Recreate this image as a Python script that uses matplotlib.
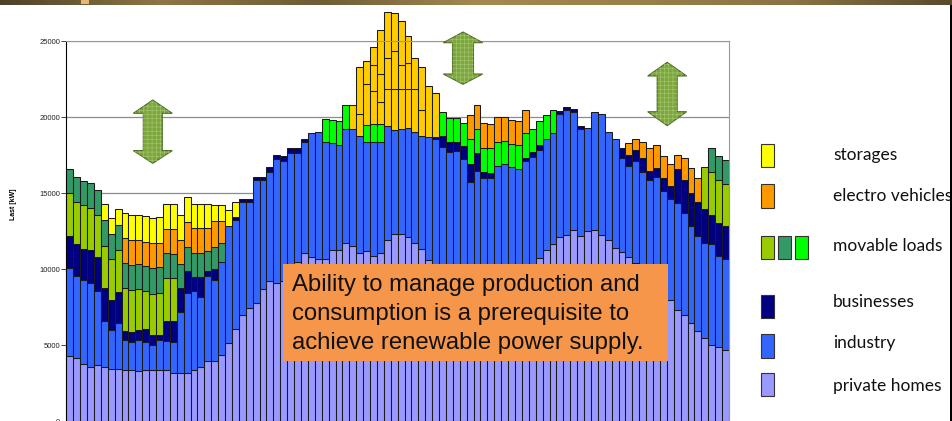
import numpy as np
import matplotlib.pyplot as plt
from matplotlib.patches import Rectangle, Polygon
from matplotlib.colors import LinearSegmentedColormap

# load profile, 96 quarter hours, values in kW (segment heights)
homes = [
    4300, 4150, 3750, 3600, 3700, 3550, 3450, 3450, 3400, 3400,
    3300, 3400, 3350, 3400, 3400, 3200, 3150, 3150, 3400, 3550,
    4000, 4000, 4350, 5150, 6100, 7000, 7450, 7800, 8700, 9250,
    9100, 9200, 10000, 10450, 11050, 10800, 10700, 10700, 11250, 11300,
    11700, 11550, 11050, 11200, 10900, 11050, 11900, 12350, 12300, 12100,
    11700, 11350, 10600, 10200, 10000, 9800, 9600, 9400, 9300, 9200,
    9100, 9100, 9200, 9300, 9500, 9700, 9900, 10200, 10750, 11300,
    11650, 12150, 12250, 12600, 12200, 12500, 12600, 12250, 11950, 11400,
    11150, 10800, 10400, 9950, 9500, 9050, 8550, 8000, 7350, 7000,
    6450, 5950, 5500, 5000, 4900, 4700]

industry = [
    5800, 5400, 5550, 5500, 4900, 3050, 2550, 3000, 1950, 1850,
    2050, 1850, 1650, 1950, 1900, 2000, 4050, 5300, 5150, 4650,
    5550, 5300, 6150, 7700, 7150, 7400, 7000, 8050, 7150, 7150,
    8150, 7950, 7650, 7200, 7300, 8200, 8350, 7650, 7050, 6850,
    7550, 7700, 7700, 7200, 7500, 7350, 7550, 6800, 6950, 7200,
    7350, 7400, 8100, 8350, 8050, 7900, 8200, 7850, 6450, 7250,
    6900, 6900, 7600, 7650, 7200, 6900, 7250, 7200, 7100, 7300,
    7350, 8050, 8200, 7750, 7000, 6800, 7750, 7950, 7100, 7200,
    6200, 6000, 6750, 6450, 6350, 7000, 6600, 6650, 7000, 6700,
    6400, 6250, 6250, 6650, 6000, 6000]

businesses = [
    2100, 2100, 2050, 2150, 2200, 2200, 1950, 2050, 600, 650,
    650, 800, 650, 350, 1300, 1400, 1550, 1450, 950, 1300,
    350, 700, 0, 0, 200, 250, 200, 200, 200, 300,
    300, 300, 300, 300, 250, 0, 0, 0, 0, 0,
    0, 0, 0, 0, 0, 0, 0, 0, 0, 0,
    0, 0, 0, 150, 750, 700, 600, 850, 1200, 1200,
    400, 350, 0, 0, 0, 0, 200, 300, 300, 0,
    0, 200, 200, 200, 200, 0, 0, 0, 0, 0,
    650, 750, 700, 950, 600, 600, 850, 800, 2250, 2150,
    2150, 2200, 2200, 1950, 2150, 2150]

movable_a = ([2800, 2800, 2850, 2800, 2800, 2750, 2750, 2800, 2800, 2750,
              2700, 2500, 2750, 2750, 2850, 2800]
             + [0] * 76 + [2750, 2800, 2800, 2750])

movable_b = ([1600, 1600, 1600, 1600, 1600, 1700, 1650, 1600, 1650, 1650,
              1650, 1650, 1700, 1700, 1600, 1600, 1600, 1600, 1600, 1600,
              1300, 1500, 1200]
             + [0] * 70 + [1600, 1600, 1600])

movable_c = ([0] * 37 + [1550, 1550, 1600, 1550] + [0, 0] + [1100, 1150, 1150]
             + [0] * 8
             + [1550, 1550, 1550, 1550, 1600, 1550, 1600, 1600, 1600, 1500,
                1550, 1550, 1600, 1550, 1600, 1550, 1500]
             + [0] * 25)

electro = ([0] * 8
           + [1650, 1650, 1550, 1600, 1600, 1600, 1600, 1650, 1600, 1600,
              1600, 1600, 1500, 1650, 1500]
           + [0] * 35
           + [1600, 1600, 1600, 1600, 1600, 1600, 1600, 1600, 1550]
           + [0] * 14
           + [750, 750, 1050, 1500, 1500, 1450, 1500, 950, 1450, 1650, 1600]
           + [0] * 4)

storages = ([0] * 5
            + [1050, 1050, 1050, 1650, 1650, 1700, 1700, 1700, 1700, 1650,
               1650, 1650, 1650, 1600, 1600, 1600, 1050, 1000, 1050, 1000]
            + [0] * 71)

peak_a = [0] * 41 + [1550, 1500, 2700, 2150, 1450, 2400, 2700, 2600, 2550, 2800, 1750, 3350, 2900] + [0] * 42
peak_b = [0] * 41 + [0, 3050, 1500, 1750, 1850, 2050, 2500, 1600, 1750, 2050, 2800, 0, 0] + [0] * 42
peak_c = [0] * 41 + [0, 0, 0, 1150, 2900, 3050, 2500, 2900, 1750, 0, 0, 0, 0] + [0] * 42

series = [
    (homes, '#9999FF'),
    (industry, '#3366FF'),
    (businesses, '#000080'),
    (movable_a, '#99CC00'),
    (movable_b, '#339966'),
    (movable_c, '#00FF00'),
    (electro, '#FF9900'),
    (storages, '#FFFF00'),
    (peak_a, '#FFCC00'),
    (peak_b, '#FFCC00'),
    (peak_c, '#FFCC00'),
]

W, H = 953, 421
fx = lambda x: x / W
fy = lambda y: 1 - y / H

fig = plt.figure(figsize=(W / 100, H / 100), dpi=100)
fig.patch.set_facecolor('white')

ax = fig.add_axes([fx(66.3), fy(421.3), fx(729) - fx(66.3), fy(41.3) - fy(421.3)])
x = np.arange(len(homes))
bottom = np.zeros(len(homes))
for vals, col in series:
    v = np.array(vals, dtype=float)
    lw = np.where(v > 0, 0.75, 0.0)
    ax.bar(x, v, bottom=bottom, width=1.0, color=col, edgecolor='#1a1a1a',
           linewidth=lw, zorder=2, clip_on=False)
    bottom += v

ax.set_xlim(-0.5, len(homes) - 0.5)
ax.set_ylim(0, 25000)
ax.set_yticks(range(0, 25001, 5000))
ax.set_xticks([])
ax.tick_params(axis='y', labelsize=5.5, length=3.3, width=0.6, pad=1.2,
               colors='#222222')
for lab in ax.get_yticklabels():
    lab.set_family('Liberation Sans')
ax.yaxis.grid(True, color='#8c8c8c', linewidth=0.9)
ax.set_axisbelow(True)
ax.spines['left'].set_color('black')
ax.spines['left'].set_linewidth(0.8)
ax.spines['right'].set_color('#999999')
ax.spines['top'].set_color('#999999')
ax.spines['bottom'].set_visible(False)

fig.text(fx(13.5), fy(204), 'Last [kW]', rotation=90, ha='center', va='center',
         fontsize=5, fontweight='bold', family='Liberation Sans')

# text box
fig.patches.append(Rectangle((fx(283), fy(360.7)), fx(667.7) - fx(283), fy(263.5) - fy(360.7),
                             transform=fig.transFigure, facecolor='#F5964B',
                             edgecolor='none', zorder=5))
for txt, yb in [('Ability to manage production and', 291.5),
                ('consumption is a prerequisite to', 320.3),
                ('achieve renewable power supply.', 349.1)]:
    fig.text(fx(292), fy(yb), txt, ha='left', va='baseline', fontsize=17.2,
             family='Liberation Sans', color='#111111', zorder=6)


# double arrows
def double_arrow(cx, t, b, hw, sw, hl1, hl2):
    pts = [(cx, t), (cx + hw, t + hl1), (cx + sw, t + hl1), (cx + sw, b - hl2),
           (cx + hw, b - hl2), (cx, b), (cx - hw, b - hl2), (cx - sw, b - hl2),
           (cx - sw, t + hl1), (cx - hw, t + hl1)]
    pts = [(fx(px), fy(py)) for px, py in pts]
    fig.patches.append(Polygon(pts, closed=True, transform=fig.transFigure,
                               facecolor='#7DA63D', edgecolor='#4D6B24',
                               linewidth=0.8, zorder=5))
    fig.patches.append(Polygon(pts, closed=True, transform=fig.transFigure,
                               fill=False, hatch='++++', edgecolor='#A3C873',
                               linewidth=0, zorder=5))


plt.rcParams['hatch.linewidth'] = 0.4
double_arrow(152.8, 100, 163.3, 19.5, 9.5, 13.3, 12.7)
double_arrow(463, 32, 84.3, 19.7, 10.5, 10.7, 10.3)
double_arrow(667.2, 62.3, 125.7, 19.5, 10, 13.7, 14)

# legend
legend_rows = [
    ('storages', ['#FFFF00'], 144, 167, 160),
    ('electro vehicles', ['#FF9900'], 184, 208, 201),
    ('movable loads', ['#99CC00', '#339966', '#00FF00'], 236, 259, 251),
    ('businesses', ['#000080'], 295, 318, 306.7),
    ('industry', ['#3366FF'], 334, 358, 348.3),
    ('private homes', ['#9999FF'], 373, 396, 391),
]
for label, cols, top, bot, base in legend_rows:
    for k, c in enumerate(cols):
        x0 = 761 + 17 * k
        fig.patches.append(Rectangle((fx(x0), fy(bot)), fx(13), fy(top) - fy(bot),
                                     transform=fig.transFigure, facecolor=c,
                                     edgecolor='#333333', linewidth=0.8))
    fig.text(fx(833), fy(base), label, ha='left', va='baseline', fontsize=12.5,
             family='Lato', color='#111111')

# slide decoration: top band and right edge
band = fig.add_axes([0, fy(5), 1, 5 / H])
band_cmap = LinearSegmentedColormap.from_list(
    'band', ['#4E4128', '#8E7645', '#6E5C36', '#A38850', '#9A8049', '#8A7444', '#5A4A2C'])
band.imshow(np.linspace(0, 1, 256)[None, :], aspect='auto', cmap=band_cmap)
band.axis('off')
fig.patches.append(Rectangle((fx(81), fy(4)), fx(8), 4 / H, transform=fig.transFigure,
                             facecolor='#E8B870', edgecolor='none', zorder=7))
fig.patches.append(Rectangle((fx(950), 0), fx(3), fy(5), transform=fig.transFigure,
                             facecolor='black', edgecolor='none', zorder=7))

fig.savefig('out.png', dpi=100)
